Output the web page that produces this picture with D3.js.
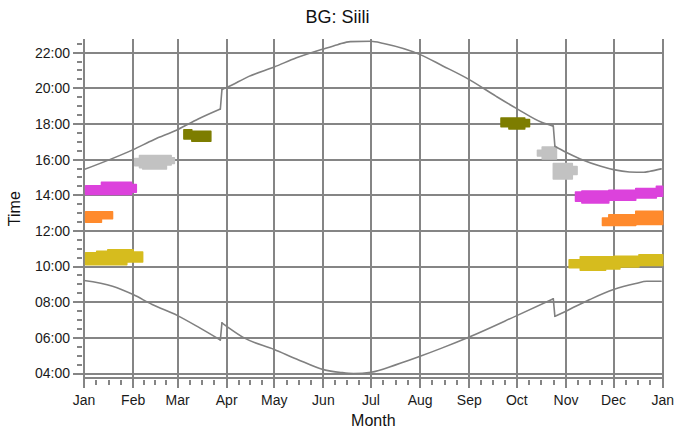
<!DOCTYPE html>
<html>
<head>
<meta charset="utf-8">
<script src="https://cdn.jsdelivr.net/npm/d3@7"></script>
<style>
  html, body { margin: 0; padding: 0; background: #fff; }
  svg { display: block; }
</style>
</head>
<body>
<div id="chart"></div>
<script>
// ── Data ──
// Sun lines: [date, hours]
var sunset = [
  ['2009-01-01', 15.44], ['2009-02-01', 16.56], ['2009-02-14', 17.12],
  ['2009-03-01', 17.68], ['2009-03-14', 18.28], ['2009-03-28', 18.84],
  ['2009-03-29', 19.93], ['2009-04-01', 20.04], ['2009-04-15', 20.67],
  ['2009-05-01', 21.2], ['2009-05-15', 21.71], ['2009-06-01', 22.21],
  ['2009-06-10', 22.45], ['2009-06-18', 22.62], ['2009-07-01', 22.64],
  ['2009-07-09', 22.51], ['2009-08-01', 21.89], ['2009-08-15', 21.27],
  ['2009-09-01', 20.49], ['2009-09-18', 19.55], ['2009-10-01', 18.86],
  ['2009-10-17', 18.08], ['2009-10-24', 17.88], ['2009-10-25', 16.75],
  ['2009-11-01', 16.41], ['2009-11-10', 16.04], ['2009-11-23', 15.63],
  ['2009-12-01', 15.44], ['2009-12-11', 15.31], ['2009-12-20', 15.29],
  ['2009-12-24', 15.35], ['2009-12-31', 15.48]
];
var sunrise = [
  ['2009-01-01', 9.22], ['2009-01-19', 8.9], ['2009-02-01', 8.43],
  ['2009-02-13', 7.87], ['2009-03-01', 7.25], ['2009-03-15', 6.56],
  ['2009-03-28', 5.88], ['2009-03-29', 6.84], ['2009-04-01', 6.65],
  ['2009-04-12', 6.0], ['2009-05-01', 5.35], ['2009-05-15', 4.82],
  ['2009-06-01', 4.22], ['2009-06-12', 4.06], ['2009-06-20', 4.0],
  ['2009-07-01', 4.07], ['2009-07-17', 4.5], ['2009-08-01', 4.97],
  ['2009-08-15', 5.44], ['2009-09-01', 6.05], ['2009-10-01', 7.25],
  ['2009-10-24', 8.19], ['2009-10-25', 7.21], ['2009-11-01', 7.5],
  ['2009-11-16', 8.15], ['2009-12-01', 8.71], ['2009-12-15', 9.05],
  ['2009-12-22', 9.18], ['2009-12-31', 9.18]
];

// Bands: [from date, low hours, high hours] — each row holds until the next row
var magentaEarly = [
  ['2009-01-02', 14.04, 14.54], ['2009-01-12', 14.04, 14.73],
  ['2009-01-31', 14.17, 14.6], ['2009-02-03', 14.17, 14.6]
];
var magentaLate = [
  ['2009-11-07', 13.67, 14.18], ['2009-11-11', 13.57, 14.24],
  ['2009-11-28', 13.72, 14.28], ['2009-12-15', 13.85, 14.38],
  ['2009-12-28', 13.94, 14.5], ['2010-01-01', 13.94, 14.5]
];
var orangeEarly = [
  ['2009-01-02', 12.49, 13.07], ['2009-01-12', 12.69, 13.07],
  ['2009-01-19', 12.69, 13.07]
];
var orangeLate = [
  ['2009-11-24', 12.3, 12.73], ['2009-11-28', 12.3, 12.91],
  ['2009-12-15', 12.36, 13.1], ['2010-01-01', 12.36, 13.1]
];
var yellowEarly = [
  ['2009-01-02', 10.11, 10.77], ['2009-01-09', 10.11, 10.86],
  ['2009-01-16', 10.11, 10.95], ['2009-01-28', 10.26, 10.95],
  ['2009-02-01', 10.26, 10.82], ['2009-02-07', 10.26, 10.82]
];
var yellowLate = [
  ['2009-11-03', 9.93, 10.39], ['2009-11-10', 9.79, 10.55],
  ['2009-11-26', 9.87, 10.55], ['2009-12-01', 9.87, 10.58],
  ['2009-12-05', 9.98, 10.58], ['2009-12-17', 10.06, 10.67],
  ['2010-01-01', 10.06, 10.67]
];
var grayFeb = [
  ['2009-02-02', 15.65, 16.06], ['2009-02-05', 15.55, 16.23],
  ['2009-02-07', 15.48, 16.23], ['2009-02-22', 15.7, 16.23],
  ['2009-02-25', 15.78, 16.1], ['2009-02-27', 15.78, 16.1]
];
var grayOct = [
  ['2009-10-14', 16.2, 16.52], ['2009-10-17', 16.04, 16.71],
  ['2009-10-26', 16.04, 16.71]
];
var grayNov = [
  ['2009-10-24', 14.92, 15.78], ['2009-11-05', 15.16, 15.61],
  ['2009-11-08', 15.16, 15.61]
];
var oliveMar = [
  ['2009-03-05', 17.16, 17.68], ['2009-03-10', 17.03, 17.59],
  ['2009-03-22', 17.03, 17.59]
];
var oliveOct = [
  ['2009-09-21', 17.85, 18.34], ['2009-09-26', 17.72, 18.34],
  ['2009-10-06', 17.85, 18.25], ['2009-10-09', 17.85, 18.25]
];

var MONTH_LABELS = ['Jan', 'Feb', 'Mar', 'Apr', 'May', 'Jun', 'Jul',
  'Aug', 'Sep', 'Oct', 'Nov', 'Dec', 'Jan'];
var HOUR_TICKS = [4, 6, 8, 10, 12, 14, 16, 18, 20, 22];

(function () {
  'use strict';

  // ── Constants ──
  var WIDTH = 675;
  var HEIGHT = 432;
  var PLOT = { left: 84, right: 662.7, top: 39.3, bottom: 378 };
  var GRID_COLOR = '#858585';
  var LINE_COLOR = '#808080';
  var FONT = 'Liberation Sans, Arial, sans-serif';
  var DAY_MS = 864e5;
  var BANDS = [
    { data: grayFeb, color: '#c2c2c2' },
    { data: grayOct, color: '#c2c2c2' },
    { data: grayNov, color: '#c2c2c2' },
    { data: oliveMar, color: '#7d7d00' },
    { data: oliveOct, color: '#7d7d00' },
    { data: magentaEarly, color: '#dc42dc' },
    { data: magentaLate, color: '#dc42dc' },
    { data: orangeEarly, color: '#ff8a2c' },
    { data: orangeLate, color: '#ff8a2c' },
    { data: yellowEarly, color: '#d6bc1e' },
    { data: yellowLate, color: '#d6bc1e' }
  ];

  var parseDate = d3.timeParse('%Y-%m-%d');
  function pad(n) { return (n < 10 ? '0' : '') + n; }

  // Split a sun line at the one-day clock changes: smooth runs + straight jumps
  function splitAtJumps(rows) {
    var runs = [[rows[0]]];
    var jumps = [];
    for (var i = 1; i < rows.length; i++) {
      var gap = parseDate(rows[i][0]) - parseDate(rows[i - 1][0]);
      if (gap <= DAY_MS * 1.5) {
        jumps.push([rows[i - 1], rows[i]]);
        runs.push([rows[i]]);
      } else {
        runs[runs.length - 1].push(rows[i]);
      }
    }
    return { runs: runs, jumps: jumps };
  }

  var svg = d3.select('#chart').append('svg')
    .attr('width', WIDTH)
    .attr('height', HEIGHT);

  // ── Scales ──
  var x = d3.scaleTime()
    .domain([parseDate('2009-01-01'), parseDate('2010-01-01')])
    .range([PLOT.left, PLOT.right]);
  var y = d3.scaleLinear()
    .domain([3.75, 22.75])
    .range([PLOT.bottom, PLOT.top]);

  var months = d3.timeMonth.range(x.domain()[0], d3.timeDay.offset(x.domain()[1], 1));

  // ── Grid ──
  var grid = svg.append('g')
    .attr('stroke', GRID_COLOR)
    .attr('stroke-width', 2)
    .attr('shape-rendering', 'crispEdges');

  grid.selectAll('.hgrid')
    .data(HOUR_TICKS)
    .join('line')
    .attr('x1', PLOT.left - 11)
    .attr('x2', PLOT.right + 1)
    .attr('y1', function (d) { return Math.round(y(d)); })
    .attr('y2', function (d) { return Math.round(y(d)); });

  grid.selectAll('.vgrid')
    .data(months)
    .join('line')
    .attr('x1', function (d) { return Math.round(x(d)); })
    .attr('x2', function (d) { return Math.round(x(d)); })
    .attr('y1', PLOT.top)
    .attr('y2', PLOT.bottom + 10);

  // bottom axis line
  grid.append('line')
    .attr('x1', PLOT.left).attr('x2', PLOT.right + 1)
    .attr('y1', PLOT.bottom).attr('y2', PLOT.bottom);

  // minor y ticks every 30 min
  var minorHours = d3.range(4.5, 22.75, 0.5).filter(function (h) {
    return HOUR_TICKS.indexOf(h) < 0;
  });
  grid.selectAll('.ytick')
    .data(minorHours)
    .join('line')
    .attr('x1', PLOT.left - 7)
    .attr('x2', PLOT.left - 2)
    .attr('y1', function (d) { return Math.round(y(d)); })
    .attr('y2', function (d) { return Math.round(y(d)); });

  // minor x ticks at quarter months
  var quarters = [];
  months.slice(0, 12).forEach(function (m) {
    var next = d3.timeMonth.offset(m, 1);
    var span = next - m;
    [1, 2, 3].forEach(function (k) { quarters.push(new Date(+m + span * k / 4)); });
  });
  grid.selectAll('.xtick')
    .data(quarters)
    .join('line')
    .attr('x1', function (d) { return Math.round(x(d)); })
    .attr('x2', function (d) { return Math.round(x(d)); })
    .attr('y1', PLOT.bottom + 2)
    .attr('y2', PLOT.bottom + 7);

  // ── Bands ──
  var area = d3.area()
    .x(function (d) { return x(parseDate(d[0])); })
    .y0(function (d) { return y(d[1]); })
    .y1(function (d) { return y(d[2]); })
    .curve(d3.curveStepAfter);

  svg.append('g').selectAll('path')
    .data(BANDS)
    .join('path')
    .attr('d', function (b) { return area(b.data); })
    .attr('fill', function (b) { return b.color; })
    .attr('stroke', function (b) { return b.color; })
    .attr('stroke-width', 1.5)
    .attr('stroke-linejoin', 'round');

  // ── Sun lines ──
  var smooth = d3.line()
    .x(function (d) { return x(parseDate(d[0])); })
    .y(function (d) { return y(d[1]); })
    .curve(d3.curveMonotoneX);
  var straight = d3.line()
    .x(function (d) { return x(parseDate(d[0])); })
    .y(function (d) { return y(d[1]); });

  var sunGroup = svg.append('g')
    .attr('fill', 'none')
    .attr('stroke', LINE_COLOR)
    .attr('stroke-width', 1.6)
    .attr('stroke-linecap', 'round');

  [sunset, sunrise].forEach(function (rows) {
    var parts = splitAtJumps(rows);
    parts.runs.forEach(function (run) {
      sunGroup.append('path').attr('d', smooth(run));
    });
    parts.jumps.forEach(function (pair) {
      sunGroup.append('path').attr('d', straight(pair));
    });
  });

  // ── Labels ──
  svg.append('g').selectAll('text')
    .data(HOUR_TICKS)
    .join('text')
    .attr('x', 70)
    .attr('y', function (d) { return y(d); })
    .attr('dy', '0.35em')
    .attr('text-anchor', 'end')
    .attr('font-family', FONT)
    .attr('font-size', 14)
    .attr('fill', '#1a1a1a')
    .text(function (d) { return pad(d) + ':00'; });

  svg.append('g').selectAll('text')
    .data(months)
    .join('text')
    .attr('x', function (d) { return x(d); })
    .attr('y', 405)
    .attr('text-anchor', 'middle')
    .attr('font-family', FONT)
    .attr('font-size', 14)
    .attr('fill', '#1a1a1a')
    .text(function (d, i) { return MONTH_LABELS[i]; });

  svg.append('text')
    .attr('x', WIDTH / 2)
    .attr('y', 23)
    .attr('text-anchor', 'middle')
    .attr('font-family', FONT)
    .attr('font-size', 18)
    .attr('fill', '#111')
    .text('BG: Siili');

  svg.append('text')
    .attr('x', (PLOT.left + PLOT.right) / 2)
    .attr('y', 426)
    .attr('text-anchor', 'middle')
    .attr('font-family', FONT)
    .attr('font-size', 16)
    .attr('fill', '#111')
    .text('Month');

  svg.append('text')
    .attr('transform', 'translate(20,' + (PLOT.top + PLOT.bottom) / 2 + ') rotate(-90)')
    .attr('text-anchor', 'middle')
    .attr('font-family', FONT)
    .attr('font-size', 16)
    .attr('fill', '#111')
    .text('Time');
})();
</script>
</body>
</html>
